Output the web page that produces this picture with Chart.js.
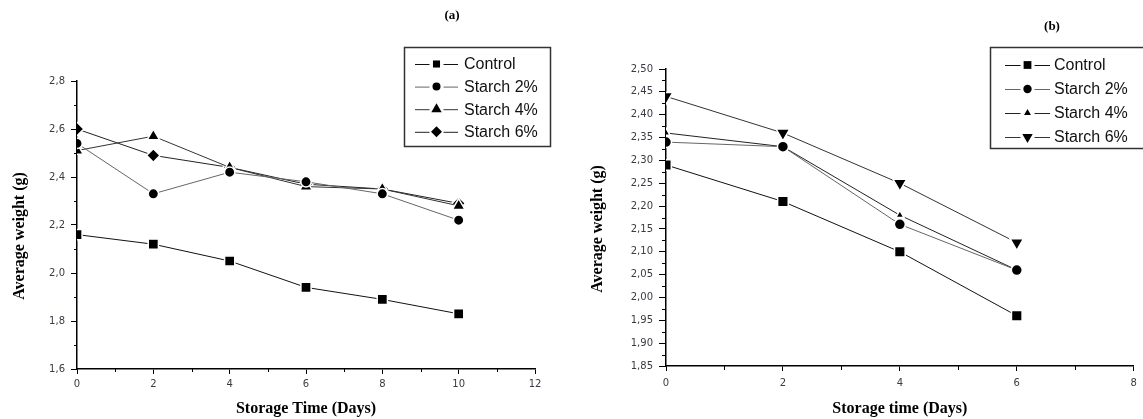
<!DOCTYPE html>
<html>
<head>
<meta charset="utf-8">
<script src="https://cdn.jsdelivr.net/npm/chart.js@4.4.0/dist/chart.umd.min.js"></script>
<style>
  body { margin: 0; background: #fff; }
  #wrap { position: relative; width: 1143px; height: 419px; overflow: hidden; }
  canvas { position: absolute; top: 0; }
</style>
</head>
<body>
<div id="wrap">
  <canvas id="chartA" width="580" height="419" style="left:0"></canvas>
  <canvas id="chartB" width="563" height="419" style="left:580px"></canvas>
</div>
<script>
// ---- data, panel (a) ----
var seriesNames = ['Control', 'Starch 2%', 'Starch 4%', 'Starch 6%'];
var daysA = [0, 2, 4, 6, 8, 10];
var controlA = [2.16, 2.12, 2.05, 1.94, 1.89, 1.83];
var starch2A = [2.54, 2.33, 2.42, 2.38, 2.33, 2.22];
var starch4A = [2.51, 2.57, 2.44, 2.36, 2.35, 2.28];
var starch6A = [2.60, 2.49, 2.44, 2.37, 2.35, 2.29];

// ---- data, panel (b) ----
var daysB = [0, 2, 4, 6];
var controlB = [2.29, 2.21, 2.10, 1.96];
var starch2B = [2.34, 2.33, 2.16, 2.06];
var starch4B = [2.36, 2.33, 2.18, 2.06];
var starch6B = [2.44, 2.36, 2.25, 2.12];

// marker looks for each series
var stylesA = [
  { shape: 'rect', r: 7.2, rot: 0, line: '#111', legR: 5 },
  { shape: 'circle', r: 5.2, rot: 0, line: '#666', legR: 4 },
  { shape: 'triangle', r: 7.2, rot: 0, line: '#333', legR: 6 },
  { shape: 'rectRot', r: 6.8, rot: 0, line: '#222', legR: 5.5 }
];
var stylesB = [
  { shape: 'rect', r: 7.5, rot: 0, line: '#111', legR: 5.5 },
  { shape: 'circle', r: 5.5, rot: 0, line: '#666', legR: 4.2 },
  { shape: 'triangle', r: 4.8, rot: 0, line: '#222', legR: 4 },
  { shape: 'triangle', r: 7.8, rot: 180, line: '#333', legR: 6 }
];

function makeDatasets(days, seriesList, styles) {
  return seriesList.map(function(vals, i) {
    var st = styles[i];
    return {
      label: seriesNames[i],
      data: vals.map(function(v, j) { return { x: days[j], y: v }; }),
      borderColor: st.line,
      borderWidth: 1,
      pointStyle: st.shape,
      pointRotation: st.rot,
      pointRadius: st.r,
      pointBackgroundColor: '#000',
      pointBorderColor: '#fff',
      pointBorderWidth: 1.5,
      tension: 0
    };
  });
}

function drawMarker(ctx, shape, x, y, r, rot) {
  var rad = rot * Math.PI / 180;
  ctx.beginPath();
  if (shape === 'rect') {
    var s = Math.SQRT1_2 * r;
    ctx.rect(x - s, y - s, 2 * s, 2 * s);
  } else if (shape === 'circle') {
    ctx.arc(x, y, r, 0, Math.PI * 2);
  } else if (shape === 'triangle') {
    for (var k = 0; k < 3; k++) {
      var a = rad + k * 2 * Math.PI / 3;
      var px = x + Math.sin(a) * r, py = y - Math.cos(a) * r;
      if (k === 0) ctx.moveTo(px, py); else ctx.lineTo(px, py);
    }
    ctx.closePath();
  } else if (shape === 'rectRot') {
    ctx.moveTo(x, y - r); ctx.lineTo(x + r, y); ctx.lineTo(x, y + r); ctx.lineTo(x - r, y);
    ctx.closePath();
  }
  ctx.fill();
}

// minor ticks, y title, panel label and the framed legend
function extrasPlugin(cfg) {
  return {
    id: 'extras',
    afterDraw: function(chart) {
      var ctx = chart.ctx;
      var xs = chart.scales.x, ys = chart.scales.y;
      ctx.save();
      ctx.strokeStyle = '#000';
      ctx.lineWidth = 1;
      ctx.beginPath();
      for (var v = xs.min + cfg.xMinor; v < xs.max; v += cfg.xMinor * 2) {
        var px = Math.round(xs.getPixelForValue(v)) + 0.5;
        ctx.moveTo(px, xs.top); ctx.lineTo(px, xs.top + cfg.minorLen);
      }
      for (var w = ys.min + cfg.yMinor; w < ys.max - 1e-9; w += cfg.yMinor * 2) {
        var py = Math.round(ys.getPixelForValue(w)) + 0.5;
        ctx.moveTo(ys.right, py); ctx.lineTo(ys.right - cfg.minorLen, py);
      }
      ctx.stroke();

      // y axis title
      ctx.fillStyle = '#000';
      ctx.textAlign = 'center';
      ctx.textBaseline = 'middle';
      ctx.font = 'bold 16px "Liberation Serif"';
      ctx.save();
      ctx.translate(cfg.yTitleX, cfg.yTitleY);
      ctx.rotate(-Math.PI / 2);
      ctx.fillText('Average weight (g)', 0, 0);
      ctx.restore();

      // panel label
      ctx.font = 'bold 13px "Liberation Serif"';
      ctx.fillText(cfg.label, cfg.labelX, cfg.labelY);

      // legend
      var L = cfg.legend;
      ctx.strokeStyle = '#333';
      ctx.lineWidth = 1.5;
      ctx.strokeRect(L.x, L.y, L.w, L.h);
      ctx.font = '16px "Liberation Sans"';
      ctx.textAlign = 'left';
      for (var i = 0; i < seriesNames.length; i++) {
        var st = cfg.styles[i];
        var ry = L.row0 + i * L.rowGap;
        ctx.strokeStyle = st.line;
        ctx.lineWidth = 1;
        ctx.beginPath();
        ctx.moveTo(L.line0, ry + 0.5); ctx.lineTo(L.mark - L.gap, ry + 0.5);
        ctx.moveTo(L.mark + L.gap, ry + 0.5); ctx.lineTo(L.line1, ry + 0.5);
        ctx.stroke();
        ctx.fillStyle = '#000';
        drawMarker(ctx, st.shape, L.mark, ry, st.legR, st.rot);
        ctx.fillStyle = '#111';
        ctx.fillText(seriesNames[i], L.text, ry + 1);
      }
      ctx.restore();
    }
  };
}

function commaFmt(dec) {
  return function(v) { return Number(v).toFixed(dec).replace('.', ','); };
}

function buildOptions(o) {
  return {
    responsive: false,
    animation: false,
    devicePixelRatio: 1,
    layout: { padding: { top: o.top, right: o.right, bottom: 0, left: 0 } },
    plugins: { legend: { display: false }, tooltip: { enabled: false } },
    scales: {
      x: {
        type: 'linear', min: 0, max: o.xMax,
        ticks: { stepSize: 2, color: '#3a3a44', font: { family: 'DejaVu Sans', size: 10 },
                 padding: o.xPad, maxRotation: 0, autoSkip: false, callback: commaFmt(0) },
        grid: { drawOnChartArea: false, drawTicks: true, tickLength: 5, color: '#000', lineWidth: 1 },
        border: { display: true, color: '#000', width: 1.5 },
        title: { display: true, text: o.xTitle, color: '#000',
                 font: { family: 'Liberation Serif', size: 16, weight: 'bold' },
                 padding: { top: 0, bottom: 1 } },
        afterFit: function(s) { s.height = o.xHeight; }
      },
      y: {
        type: 'linear', min: o.yMin, max: o.yMax,
        ticks: { stepSize: o.yStep, color: '#3a3a44', font: { family: 'DejaVu Sans', size: 10 },
                 padding: 6, autoSkip: false, callback: commaFmt(o.yDec) },
        grid: { drawOnChartArea: false, drawTicks: true, tickLength: o.yTick, color: '#000', lineWidth: 1 },
        border: { display: true, color: '#000', width: 1.5 },
        title: { display: false },
        afterFit: function(s) { s.width = o.yWidth; }
      }
    }
  };
}

new Chart(document.getElementById('chartA'), {
  type: 'line',
  data: { datasets: makeDatasets(daysA, [controlA, starch2A, starch4A, starch6A], stylesA) },
  options: buildOptions({ top: 81, right: 45, xMax: 12, xHeight: 50, xPad: 4,
    xTitle: 'Storage Time (Days)', yMin: 1.6, yMax: 2.8, yStep: 0.2, yDec: 1,
    yTick: 6, yWidth: 77 }),
  plugins: [extrasPlugin({
    xMinor: 1, yMinor: 0.1, minorLen: 3, label: '(a)', labelX: 452, labelY: 16, styles: stylesA,
    yTitleX: 19.5, yTitleY: 236,
    legend: { x: 404.5, y: 47.5, w: 146, h: 99, row0: 64, rowGap: 22.6,
              line0: 415, line1: 458, mark: 436.5, gap: 7, text: 464 }
  })]
});

new Chart(document.getElementById('chartB'), {
  type: 'line',
  data: { datasets: makeDatasets(daysB, [controlB, starch2B, starch4B, starch6B], stylesB) },
  options: buildOptions({ top: 69, right: 6, xMax: 8, xHeight: 53, xPad: 6,
    xTitle: 'Storage time (Days)', yMin: 1.85, yMax: 2.5, yStep: 0.05, yDec: 2,
    yTick: 7, yWidth: 86 }),
  plugins: [extrasPlugin({
    xMinor: 1, yMinor: 0.025, minorLen: 4, label: '(b)', labelX: 472, labelY: 27, styles: stylesB,
    yTitleX: 18, yTitleY: 229,
    legend: { x: 410.5, y: 47.5, w: 200, h: 101, row0: 65, rowGap: 24,
              line0: 425, line1: 470, mark: 447.5, gap: 7, text: 474 }
  })]
});
</script>
</body>
</html>
